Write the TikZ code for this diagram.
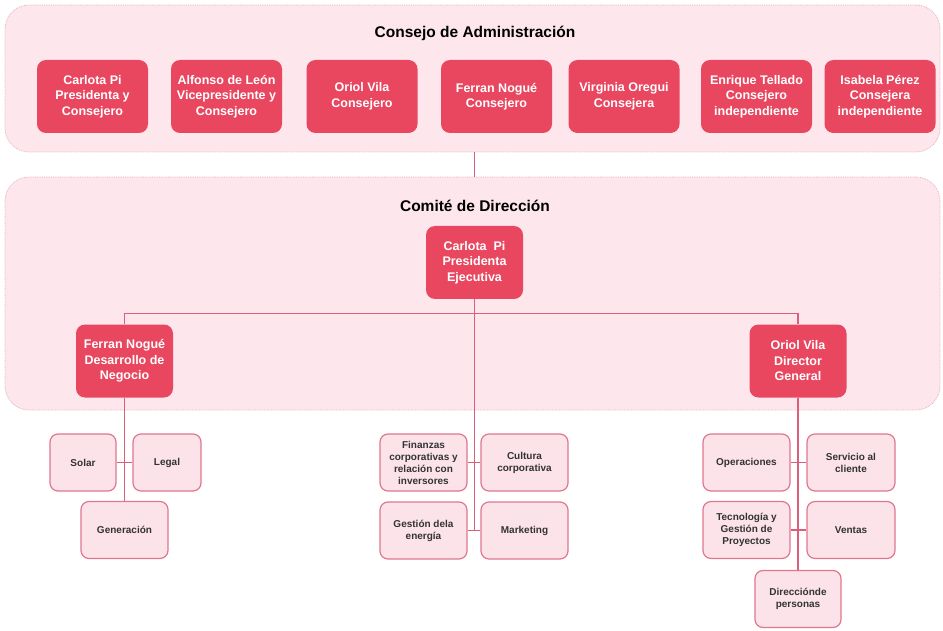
\documentclass[tikz,border=0pt]{standalone}
\usepackage{fontspec}
\setmainfont{Liberation Sans}
\usetikzlibrary{calc, positioning, backgrounds}
\definecolor{rosa}{HTML}{E8475F}
\definecolor{rosaclaro}{HTML}{FDE6EC}
\definecolor{rosaborde}{HTML}{E0B3BF}
\definecolor{rosalinea}{HTML}{DB5F7A}
\definecolor{rosacaja}{HTML}{FCE3E9}
\tikzstyle{grupo}=[draw=rosaborde, fill=rosaclaro, densely dotted, line width=0.8pt, rounded corners=24pt, inner sep=0pt]
\tikzstyle{titulo}=[font=\bfseries\fontsize{15.5}{18}\selectfont, text=black]
\tikzstyle{cargo}=[fill=rosa, rounded corners=9pt, text=white, align=center, inner sep=0pt, minimum height=73pt, font=\bfseries\fontsize{12.5}{15.5}\selectfont]
\tikzstyle{area}=[draw=rosalinea!85, fill=rosacaja, line width=1.2pt, rounded corners=8pt, text=black!80, align=center, inner sep=0pt, minimum width=87pt, minimum height=57pt, font=\bfseries\fontsize{10}{12}\selectfont]
\tikzstyle{linea}=[draw=rosalinea, line width=1.3pt]

\begin{document}
\begin{tikzpicture}[x=1pt, y=-1pt]
\useasboundingbox (0,0) rectangle (943,631);
% the two groups
\node[grupo, minimum width=935pt, minimum height=147pt] (consejo) at (472.5,78.5) {};
\node[grupo, minimum width=935pt, minimum height=233pt] (comite) at (472.5,293.5) {};
\node[titulo] (tconsejo) at (475,33) {Consejo de Administración};
\node[titulo] (tcomite) at (475,206) {Comité de Dirección};
% the board
\node[cargo, minimum width=111pt] (C1) at (92.5,96.5) {Carlota Pi\\Presidenta y\\Consejero};
\node[cargo, minimum width=111pt] (C2) at (226.5,96.5) {Alfonso de León\\Vicepresidente y\\Consejero};
\node[cargo, minimum width=111pt] (C3) at (362,96.5) {Oriol Vila\\Consejero};
\node[cargo, minimum width=111pt] (C4) at (496.5,96.5) {Ferran Nogué\\Consejero};
\node[cargo, minimum width=111pt] (C5) at (624,96.5) {Virginia Oregui\\Consejera};
\node[cargo, minimum width=111pt] (C6) at (756.5,96.5) {Enrique Tellado\\Consejero\\independiente};
\node[cargo, minimum width=111pt] (C7) at (880,96.5) {Isabela Pérez\\Consejera\\independiente};
% the management
\node[cargo, minimum width=97pt] (D0) at (474.5,262.5) {Carlota~ Pi\\Presidenta\\Ejecutiva};
\node[cargo, minimum width=97pt] (D1) at (124.5,361) {Ferran Nogué\\Desarrollo de\\Negocio};
\node[cargo, minimum width=97pt] (D2) at (798,361) {Oriol Vila\\Director\\General};
% the areas under Ferran
\node[area, minimum width=66pt] (A1) at (83,462.5) {Solar};
\node[area, minimum width=68pt] (A2) at (167,462.5) {Legal};
\node[area] (A3) at (124.5,530) {Generación};
% the areas under Carlota
\node[area] (B1) at (423.5,462.5) {Finanzas\\corporativas y\\relación con\\inversores};
\node[area] (B2) at (524.5,462.5) {Cultura\\corporativa};
\node[area] (B3) at (423.5,530.5) {Gestión dela\\energía};
\node[area] (B4) at (524.5,530.5) {Marketing};
% the areas under Oriol
\node[area] (E1) at (746.5,462.5) {Operaciones};
\node[area, minimum width=88pt] (E2) at (851,462.5) {Servicio al\\cliente};
\node[area] (E3) at (746.5,530) {Tecnología y\\Gestión de\\Proyectos};
\node[area, minimum width=88pt] (E4) at (851,530) {Ventas};
\node[area, minimum width=86pt] (E5) at (798,599) {Direcciónde\\personas};
% the lines
\draw[linea] (consejo.south -| D0) -- (comite.north -| D0);
\draw[linea] (D1.north) -- ++(0,-11) -| (D2.north);
\draw[linea] (D0.south) -- (D0.south |- B3.east);
\draw[linea] (D1.south) -- (A3.north);
\draw[linea] (D2.south) -- (E5.north);
\draw[linea] (A1) -- (A2);
\draw[linea] (B1) -- (B2);
\draw[linea] (B3) -- (B4);
\draw[linea] (E1) -- (E2);
\draw[linea] (E3) -- (E4);
\end{tikzpicture}
\end{document}
